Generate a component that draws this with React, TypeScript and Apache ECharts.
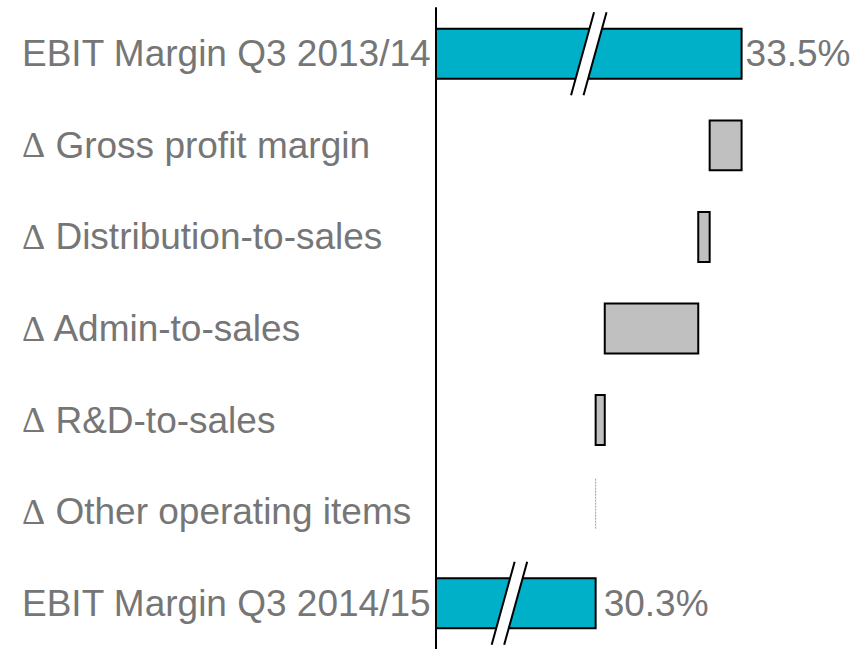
import React, { useEffect, useRef } from "react";
import * as echarts from "echarts";

const categories = [
  "EBIT Margin Q3 2013/14",
  "Δ Gross profit margin",
  "Δ Distribution-to-sales",
  "Δ Admin-to-sales",
  "Δ R&D-to-sales",
  "Δ Other operating items",
  "EBIT Margin Q3 2014/15",
];
const startMargin = 33.5;
const deltas = [-0.7, -0.25, -2.05, -0.2, 0.0];
const endMargin = 30.3;
const valueLabels = ["33.5%", "", "", "", "", "", "30.3%"];

const TEAL = "#00AFC8";
const GRAY = "#C0C0C0";
const TEXT = "#767676";

export default function App() {
  const ref = useRef<HTMLDivElement>(null);
  useEffect(() => {
    if (!ref.current) return;
    const chart = echarts.init(ref.current, undefined, { renderer: "svg" });

    const rows: any[] = [];
    rows.push([0, 0, startMargin, "total"]);
    let run = startMargin;
    deltas.forEach((d, i) => {
      const s = run;
      run = run + d;
      rows.push([i + 1, s, run, "delta"]);
    });
    rows.push([categories.length - 1, 0, endMargin, "total"]);

    const renderItem = (params: any, api: any) => {
      const cat = api.value(0);
      const s = api.value(1);
      const e = api.value(2);
      const kind = rows[params.dataIndex][3];
      const band = api.size([0, 1])[1];
      const h = band * 0.545;
      const cs = params.coordSys;
      const pe = api.coord([e, cat]);
      const cy = pe[1];
      const children: any[] = [];
      if (kind === "total") {
        const x0 = cs.x;
        const x1 = pe[0];
        children.push({
          type: "rect",
          shape: { x: x0, y: cy - h / 2, width: x1 - x0, height: h },
          style: { fill: TEAL, stroke: "#000", lineWidth: 2 },
        });
        const cx = x0 + (x1 - x0) * (cat === 0 ? 0.5 : 0.46);
        const hh = 41.5;
        const sl = 11.5;
        const g = 6.25;
        children.push({
          type: "polygon",
          shape: {
            points: [
              [cx - sl - g, cy + hh],
              [cx + sl - g, cy - hh],
              [cx + sl + g, cy - hh],
              [cx - sl + g, cy + hh],
            ],
          },
          style: { fill: "#fff", stroke: null },
        });
        [-g, g].forEach((o) => {
          children.push({
            type: "line",
            shape: { x1: cx - sl + o, y1: cy + hh, x2: cx + sl + o, y2: cy - hh },
            style: { stroke: "#000", lineWidth: 2 },
          });
        });
        const lbl = valueLabels[cat];
        if (lbl) {
          children.push({
            type: "text",
            style: {
              x: x1 + (cat === 0 ? 4 : 8),
              y: cy,
              text: lbl,
              fill: TEXT,
              font: "37px 'Liberation Sans', Arial, sans-serif",
              align: "left",
              verticalAlign: "middle",
            },
          });
        }
      } else {
        const ps = api.coord([s, cat]);
        const xa = Math.min(ps[0], pe[0]);
        const xb = Math.max(ps[0], pe[0]);
        if (xb - xa < 1) {
          children.push({
            type: "line",
            shape: { x1: xa, y1: cy - h / 2 - 8, x2: xa, y2: cy + h / 2 - 8 },
            style: { stroke: "#A0A0A0", lineWidth: 1, lineDash: [2, 1] },
          });
        } else {
          children.push({
            type: "rect",
            shape: { x: xa, y: cy - h / 2, width: xb - xa, height: h },
            style: { fill: GRAY, stroke: "#000", lineWidth: 2 },
          });
        }
      }
      return { type: "group", children };
    };

    chart.setOption({
      animation: false,
      grid: { left: 436, top: 8, width: 374, height: 646.5 },
      xAxis: {
        type: "value",
        min: 26.8,
        max: 35,
        show: false,
      },
      yAxis: {
        type: "category",
        inverse: true,
        data: categories,
        axisLine: { show: true, lineStyle: { color: "#000", width: 2 } },
        axisTick: { show: false },
        splitLine: { show: false },
        axisLabel: {
          align: "left",
          margin: 414,
          formatter: (v: string) =>
            v.startsWith("Δ") ? `{d|Δ}{t|${v.slice(1)}}` : `{t|${v}}`,
          rich: {
            t: { fontSize: 37, color: TEXT, fontFamily: "'Liberation Sans', Arial, sans-serif" },
            d: { fontSize: 36, color: TEXT, fontFamily: "'Liberation Serif', serif" },
          },
        },
      },
      series: [
        {
          type: "custom",
          renderItem,
          encode: { x: [1, 2], y: 0 },
          data: rows.map((r) => [r[0], r[1], r[2]]),
          clip: false,
        },
      ],
    });
    return () => chart.dispose();
  }, []);
  return (
    <div
      ref={ref}
      style={{ position: "fixed", left: 0, top: 0, width: 867, height: 649, background: "#fff" }}
    />
  );
}
